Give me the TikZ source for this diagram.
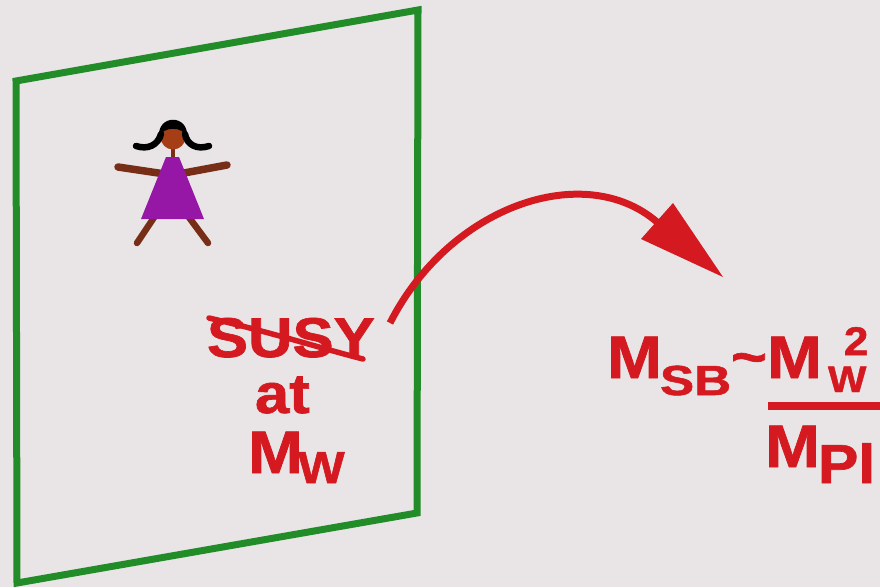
\documentclass[tikz,border=0pt]{standalone}
\usepackage{fontspec}
\setmainfont{Liberation Sans}[BoldFeatures={FakeBold=1.2}]
\definecolor{bg}{RGB}{233,229,230}
\definecolor{framegreen}{RGB}{34,140,40}
\definecolor{ink}{RGB}{212,26,32}
\definecolor{skin}{RGB}{165,62,22}
\definecolor{limb}{RGB}{120,46,22}
\definecolor{dress}{RGB}{150,22,165}
\newcommand{\fsz}[1]{\fontsize{#1}{#1}\selectfont}
\newcommand{\wide}[2][1.1]{\scalebox{#1}[1]{#2}}

\begin{document}
\begin{tikzpicture}[x=1pt,y=-1pt,
  lbl/.style={inner sep=0pt, outer sep=0pt, text=ink, font=\bfseries, anchor=base west},
  limbline/.style={draw=limb, line width=6.5pt, line cap=round}]
\fill[bg] (0,0) rectangle (880,587);
\useasboundingbox (0,0) rectangle (880,587);

% the green plane (brane)
\draw[framegreen, line width=7pt, line join=miter] (16,81) -- (418,10) -- (417,513) -- (17,583) -- cycle;

% little girl on the plane
\draw[limbline] (155,216) -- (137,243);
\draw[limbline] (188,216) -- (208,243);
\draw[limbline, line width=7.5pt] (118,167) -- (165,174);
\draw[limbline, line width=7.5pt] (184,173) -- (227,165);
\draw[limb, line width=4pt] (173,146) -- (173,162);
\fill[dress] (166,157) -- (179,157) -- (204,219) -- (141,219) -- cycle;
\fill[skin] (173,137) circle (12.5);
\fill[black] (159,137) .. controls (157,114) and (189,114) .. (187,137)
  .. controls (183,126) and (163,126) .. (159,137) -- cycle;
\draw[black, line width=6.5pt, line cap=round]
  (136,146) .. controls (148,150) and (158,145) .. (161,134);
\draw[black, line width=6.5pt, line cap=round]
  (209,146) .. controls (197,150) and (187,145) .. (185,134);

% labels on the plane
\node[lbl] (susy) at (207,357) {\fsz{56}\wide{SUSY}};
\node[lbl] (at) at (255,413) {\fsz{56}\wide{at}};
\node[lbl] (mw) at (248,473) {\fsz{60}\wide{M}};
\node[lbl] (mwsub) at (298,483) {\fsz{45}\wide{W}};
\draw[ink, line width=5.5pt, line cap=round] (209,318) .. controls (270,332) and (320,348) .. (363,359);

% curved arrow leaving the plane
\coordinate (tail) at (390,323);
\coordinate (neck) at (657,222);
\coordinate (tip) at (723,277);
\draw[ink, line width=7pt] (tail) .. controls (450,205) and (585,160) .. (neck);
\fill[ink] (tip) -- (641,239) -- (673,203) -- cycle;

% mass formula
\node[lbl] (m1) at (607,378) {\fsz{60}\wide{M}};
\node[lbl] (sb) at (660,395) {\fsz{42}\wide[1.22]{SB}};
\node[lbl] (tilde) at (731,376) {\fsz{56}\wide{\char"7E}};
\node[lbl] (m2) at (767,378) {\fsz{60}\wide{M}};
\node[lbl] (wsq) at (828,392)
  {\fsz{37}\wide{W}\llap{\raisebox{37pt}{\fsz{40}\wide{2}}\kern-2pt}};
\draw[ink, line width=7.5pt] (768,406) -- (880,406);
\node[lbl] (m3) at (765,467) {\fsz{60}\wide{M}};
\node[lbl] (pl) at (818,483) {\fsz{55}\wide{Pl}};
\end{tikzpicture}
\end{document}
